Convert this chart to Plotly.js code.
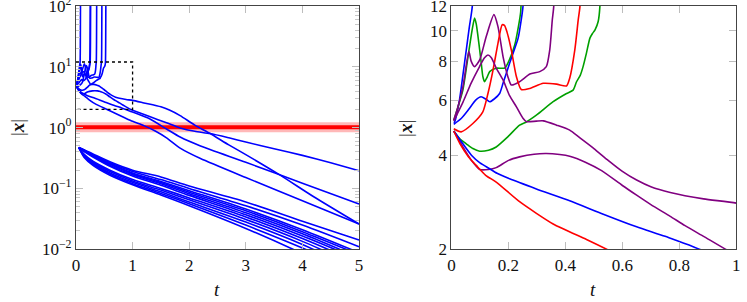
<!DOCTYPE html>
<html>
<head>
<meta charset="utf-8">
<script src="https://cdn.plot.ly/plotly-3.0.1.min.js"></script>
<style>html,body{margin:0;padding:0;background:#fff;}#chart{width:747px;height:302px;}</style>
</head>
<body>
<div id="chart"></div>
<script>
// ---------- upper group of trajectories (same curves in both panels) ----------
const t_BA = [0.008, 0.011, 0.028, 0.04, 0.052, 0.063, 0.073, 0.077, 0.081];
const y_BA = [5.08, 5.11, 6.0, 7.2, 8.69, 10.33, 11.97, 25, 200];

const t_GA = [0.008, 0.02, 0.04, 0.06, 0.072, 0.081, 0.087, 0.093, 0.099, 0.105, 0.11, 0.116, 0.125, 0.134, 0.157, 0.187, 0.204, 0.222, 0.234, 0.243, 0.249, 0.254];
const y_GA = [5.17, 5.6, 6.46, 8.5, 10.0, 10.98, 10.5, 9.6, 8.69, 7.8, 7.15, 6.87, 7.1, 7.4, 7.59, 7.6, 8.1, 9.0, 10.2, 11.5, 25, 200];

const t_BB = [0.008, 0.034, 0.06, 0.085, 0.104, 0.12, 0.134, 0.15, 0.169, 0.181, 0.204, 0.234, 0.245, 0.251, 0.256, 0.26];
const y_BB = [5.02, 5.24, 5.6, 6.0, 6.15, 6.05, 5.93, 6.05, 6.3, 6.79, 7.87, 9.47, 10.85, 11.97, 25, 200];

const t_PA = [0.008, 0.02, 0.04, 0.061, 0.069, 0.081, 0.099, 0.122, 0.149, 0.163, 0.181, 0.198, 0.21, 0.239, 0.275, 0.31, 0.333, 0.345, 0.354, 0.359, 0.363, 0.367];
const y_PA = [5.17, 5.6, 6.6, 8.6, 8.0, 7.68, 8.07, 9.59, 11.26, 10.33, 8.27, 7.13, 6.71, 6.87, 7.27, 7.40, 7.68, 8.69, 10.85, 11.97, 25, 200];

const t_RA = [0.008, 0.034, 0.075, 0.11, 0.128, 0.146, 0.163, 0.178, 0.186, 0.195, 0.21, 0.228, 0.245, 0.275, 0.322, 0.369, 0.404, 0.415, 0.433, 0.445, 0.451, 0.455, 0.459];
const y_RA = [4.86, 4.75, 5.05, 5.5, 6.3, 7.5, 9.1, 10.45, 10.4, 9.9, 8.69, 7.13, 6.49, 6.54, 6.79, 6.75, 6.66, 7.05, 8.69, 10.85, 11.97, 25, 200];

const t_GB = [0.008, 0.03, 0.052, 0.075, 0.099, 0.13, 0.157, 0.2, 0.239, 0.263, 0.298, 0.357, 0.404, 0.427, 0.439, 0.452, 0.462, 0.474, 0.486, 0.495, 0.504, 0.515, 0.521, 0.525, 0.529];
const y_GB = [4.78, 4.5, 4.35, 4.2, 4.12, 4.15, 4.25, 4.6, 4.99, 5.11, 5.37, 5.93, 6.3, 6.46, 6.87, 7.2, 7.68, 8.5, 9.47, 9.8, 10.07, 10.71, 11.97, 25, 200];

const t_PB = [0.008, 0.04, 0.069, 0.099, 0.116, 0.128, 0.14, 0.157, 0.181, 0.204, 0.228, 0.251, 0.263, 0.298, 0.322, 0.369, 0.415, 0.45, 0.5, 0.55, 0.6, 0.65, 0.7, 0.768, 0.885, 1.0, 1.2, 1.5, 1.65, 1.84, 2.1, 2.37, 2.7, 3.0, 3.6, 4.2, 5.0];
const y_PB = [5.15, 5.9, 6.8, 7.7, 8.2, 8.37, 8.2, 7.6, 6.96, 6.2, 5.71, 5.25, 5.12, 5.14, 5.15, 4.99, 4.81, 4.55, 4.2, 3.85, 3.55, 3.33, 3.17, 3.04, 2.9, 2.81, 2.55, 2.2, 1.95, 1.58, 1.1, 0.8, 0.52, 0.36, 0.167, 0.073, 0.026];

const t_PC = [0.008, 0.04, 0.07, 0.099, 0.13, 0.157, 0.2, 0.239, 0.29, 0.333, 0.38, 0.415, 0.47, 0.527, 0.6, 0.65, 0.7, 0.768, 0.82, 0.885, 0.967, 1.0, 1.3, 1.6, 1.84, 2.1, 2.37, 2.7, 3.0, 3.5, 4.0, 4.5, 5.0];
const y_PC = [4.78, 4.25, 3.85, 3.6, 3.6, 3.65, 3.85, 3.95, 4.03, 4.05, 4.02, 3.97, 3.8, 3.57, 3.2, 2.98, 2.78, 2.55, 2.38, 2.2, 1.99, 1.93, 1.52, 1.2, 0.99, 0.87, 0.8, 0.68, 0.58, 0.45, 0.35, 0.265, 0.196];

const t_BC = [0.008, 0.04, 0.07, 0.1, 0.134, 0.16, 0.204, 0.298, 0.415, 0.533, 0.65, 0.75, 0.879, 1.0, 1.3, 1.6, 1.84, 2.2, 3.0, 4.0, 5.0];
const y_BC = [4.78, 4.35, 4.0, 3.78, 3.62, 3.5, 3.36, 3.12, 2.86, 2.59, 2.36, 2.2, 1.99, 1.81, 1.4, 0.95, 0.7, 0.5, 0.27, 0.122, 0.0556];

const t_RC = [0.008, 0.03, 0.06, 0.087, 0.12, 0.157, 0.239, 0.357, 0.474, 0.55, 0.7, 0.85, 1.0, 1.2, 1.4, 1.6, 1.84, 2.2, 3.0, 4.0, 5.0];
const y_RC = [4.78, 4.35, 3.95, 3.71, 3.45, 3.28, 2.84, 2.41, 2.15, 1.99, 1.71, 1.47, 1.27, 1.08, 0.88, 0.68, 0.46, 0.31, 0.151, 0.063, 0.026];

// colours of the upper-group curves in the zoomed panel
const zoomColors = ['#0000ff', '#00a000', '#0000ff', '#800080', '#ff0000', '#00a000', '#800080', '#800080', '#0000ff', '#ff0000'];

// ---------- lower group of trajectories (left panel only) ----------
const t_low = [0.05, 0.15, 0.3, 0.6, 1, 1.5, 2, 3, 4, 5];
const y_L1  = [0.47, 0.43, 0.37, 0.275, 0.2, 0.155, 0.11, 0.06, 0.029, 0.0142];
const y_L2  = [0.47, 0.425, 0.36, 0.265, 0.19, 0.14, 0.1, 0.052, 0.025, 0.011];
const y_L3  = [0.47, 0.42, 0.35, 0.255, 0.18, 0.13, 0.092, 0.046, 0.021, 0.0088];
const y_L4  = [0.47, 0.415, 0.345, 0.25, 0.175, 0.125, 0.087, 0.043, 0.0195, 0.0082];
const y_L5  = [0.47, 0.41, 0.34, 0.24, 0.168, 0.12, 0.082, 0.04, 0.018, 0.0073];
const y_L6  = [0.47, 0.40, 0.33, 0.232, 0.16, 0.113, 0.077, 0.037, 0.0165, 0.0068];
const y_L7  = [0.47, 0.36, 0.28, 0.2, 0.14, 0.1, 0.07, 0.034, 0.015, 0.006];
const y_L8  = [0.47, 0.35, 0.27, 0.19, 0.133, 0.094, 0.065, 0.031, 0.0135, 0.0052];
const y_L9  = [0.47, 0.34, 0.26, 0.18, 0.126, 0.088, 0.06, 0.028, 0.012, 0.0045];
const y_L10 = [0.47, 0.32, 0.24, 0.165, 0.115, 0.078, 0.052, 0.022, 0.0085, 0.003];
const y_L11 = [0.47, 0.33, 0.25, 0.172, 0.12, 0.083, 0.056, 0.025, 0.0105, 0.004];

// ---------- equilibrium band and zoom box ----------
const t_eq = [0, 5];
const y_eq = [1.02, 1.02];
const t_box = [0, 1, 1, 0];
const y_box = [12, 12, 2, 2];

// ---------- tick labels ----------
const leftYTicks = [0.01, 0.1, 1, 10, 100];
const leftYText = ['10<sup>\u22122</sup>', '10<sup>\u22121</sup>', '10<sup>0</sup>', '10<sup>1</sup>', '10<sup>2</sup>'];
const leftXTicks = [0, 1, 2, 3, 4, 5];
const leftXText = ['0', '1', '2', '3', '4', '5'];
const rightXTicks = [0, 0.2, 0.4, 0.6, 0.8, 1];
const rightXText = ['0', '0.2', '0.4', '0.6', '0.8', '1'];
const rightYTicks = [2, 4, 6, 8, 10, 12];
const rightYText = ['2', '4', '6', '8', '10', '12'];

const topT = [t_BA, t_GA, t_BB, t_PA, t_RA, t_GB, t_PB, t_PC, t_BC, t_RC];
const topY = [y_BA, y_GA, y_BB, y_PA, y_RA, y_GB, y_PB, y_PC, y_BC, y_RC];
const lowY = [y_L1, y_L2, y_L3, y_L4, y_L5, y_L6, y_L7, y_L8, y_L9, y_L10, y_L11];

const LW = 1.6;
const traces = [];
traces.push({x: t_eq, y: y_eq, xaxis: 'x', yaxis: 'y', mode: 'lines', line: {color: 'rgba(255,0,0,0.28)', width: 10}});
traces.push({x: t_eq, y: y_eq, xaxis: 'x', yaxis: 'y', mode: 'lines', line: {color: '#ff0000', width: 4}});
lowY.forEach(function (ys) {
  traces.push({x: t_low, y: ys, xaxis: 'x', yaxis: 'y', mode: 'lines', line: {color: '#0000ff', width: LW, shape: 'spline', smoothing: 0.8}});
});
topT.forEach(function (ts, i) {
  traces.push({x: ts, y: topY[i], xaxis: 'x', yaxis: 'y', mode: 'lines', line: {color: '#0000ff', width: LW, shape: 'spline', smoothing: 0.6}});
});
traces.push({x: t_box, y: y_box, xaxis: 'x', yaxis: 'y', mode: 'lines', line: {color: '#000', width: 1.3, dash: 'dot'}});
topT.forEach(function (ts, i) {
  traces.push({x: ts, y: topY[i], xaxis: 'x2', yaxis: 'y2', mode: 'lines', line: {color: zoomColors[i], width: LW, shape: 'spline', smoothing: 0.6}});
});

function axis(extra) {
  return Object.assign({
    showline: true, linecolor: '#444', linewidth: 1, mirror: 'allticks',
    ticks: 'inside', ticklen: 7, tickcolor: '#bdbdbd', tickwidth: 1,
    showgrid: false, zeroline: false, ticklabeloverflow: 'allow',
    tickfont: {family: 'Liberation Serif', size: 17, color: '#111'}
  }, extra);
}
const yDom = [0.1745, 0.9801];
const minorVals = [];
[0.01, 0.1, 1, 10].forEach(function (d) { for (let k = 2; k <= 9; k++) minorVals.push(d * k); });

const titleFont = {family: 'Liberation Serif', size: 19, color: '#111'};
const layout = {
  width: 747, height: 302,
  margin: {l: 0, r: 0, t: 0, b: 0},
  paper_bgcolor: '#fff', plot_bgcolor: '#fff',
  font: {family: 'Liberation Serif'},
  showlegend: false,
  xaxis: axis({domain: [0.1017, 0.4806], anchor: 'y', range: [0, 5], tickmode: 'array', tickvals: leftXTicks, ticktext: leftXText}),
  yaxis: axis({domain: yDom, anchor: 'x', type: 'log', range: [-2, 2], tickmode: 'array', tickvals: leftYTicks, ticktext: leftYText,
    minor: {tickmode: 'array', tickvals: minorVals, ticks: 'inside', ticklen: 4, tickcolor: '#c8c8c8', showgrid: false}}),
  xaxis2: axis({domain: [0.6044, 0.9857], anchor: 'y2', range: [0, 1], tickmode: 'array', tickvals: rightXTicks, ticktext: rightXText}),
  yaxis2: axis({domain: yDom, anchor: 'x2', type: 'log', range: [Math.log10(2), Math.log10(12)], tickmode: 'array', tickvals: rightYTicks, ticktext: rightYText}),
  annotations: [
    {text: '|<b><i>x</i></b>|', xref: 'paper', yref: 'paper', x: 0.0228, y: 0.576, xanchor: 'center', yanchor: 'middle', textangle: -90, showarrow: false, font: titleFont},
    {text: '|<b><i>x</i></b>|', xref: 'paper', yref: 'paper', x: 0.542, y: 0.576, xanchor: 'center', yanchor: 'middle', textangle: -90, showarrow: false, font: titleFont},
    {text: '<i>t</i>', xref: 'paper', yref: 'paper', x: 0.2905, y: 0.043, xanchor: 'center', yanchor: 'middle', showarrow: false, font: titleFont},
    {text: '<i>t</i>', xref: 'paper', yref: 'paper', x: 0.7943, y: 0.043, xanchor: 'center', yanchor: 'middle', showarrow: false, font: titleFont}
  ]
};

Plotly.newPlot('chart', traces, layout, {staticPlot: true, displayModeBar: false});
</script>
</body>
</html>
